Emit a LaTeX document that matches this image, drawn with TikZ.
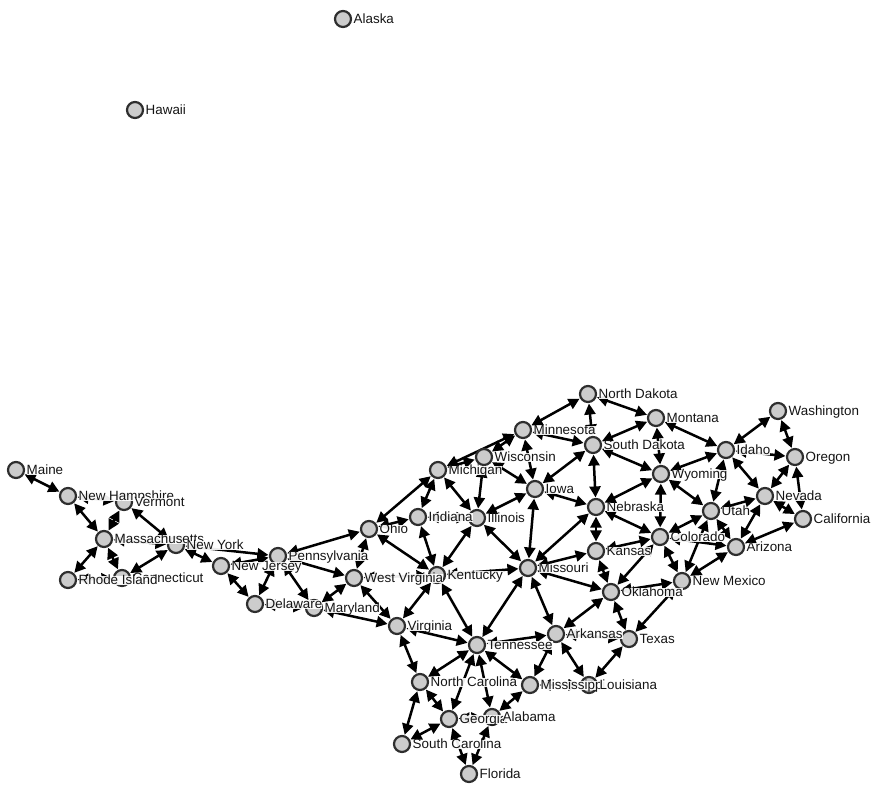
\documentclass[tikz,border=0pt]{standalone}
\usepackage{fontspec}
\setmainfont{Liberation Sans}
\usetikzlibrary{arrows.meta}
\pgfdeclarelayer{edgelayer}
\pgfsetlayers{edgelayer,main}
\definecolor{nodefill}{HTML}{CCCCCC}
\definecolor{nodeline}{HTML}{2E2E2E}
\definecolor{labeltext}{HTML}{151515}
\tikzset{
  stnode/.style={circle,draw=nodeline,fill=nodefill,line width=2.2pt,minimum size=16pt,inner sep=0pt,outer sep=1.6pt},
  link/.style={line width=2.5pt,black,{Triangle[length=11pt,width=11pt]}-{Triangle[length=11pt,width=11pt]}},
  stlabel/.style={anchor=base west,inner sep=0pt,text height=8.5pt,text depth=0.5pt,text=labeltext,fill=white,fill opacity=.92,text opacity=1,font=\fontsize{13.4}{15}\selectfont}
}
\begin{document}
\begin{tikzpicture}[x=1pt,y=-1pt]
\useasboundingbox (0,0) rectangle (875,793);
\foreach \n/\x/\y in {AK/343/19,HI/135/110,ME/16/470,NH/68/496,VT/124/502,MA/104/539,RI/68/580,CT/122/578,NY/176/545,NJ/221/566,DE/255/604,PA/278/556,OH/369/529,MI/438/470,WI/484/457,IN/418/517,IL/477/518,IA/535/489,KY/437/575,WV/354/578,MO/528/568,MD/314/608,VA/397/626,TN/477/645,AR/556/634,TX/629/639,NC/420/682,MS/530/685,LA/589/685,GA/449/719,AL/492/717,SC/402/744,FL/469/774,ND/588/394,MT/656/418,MN/523/430,SD/593/445,WY/661/474,NE/596/507,CO/660/537,KS/596/551,OK/611/592,NM/682/581,UT/711/511,WA/778/411,OR/795/457,ID/726/450,NV/765/496,CA/803/519,AZ/736/547}
  \node[stnode] (\n) at (\x,\y) {};
\begin{pgfonlayer}{edgelayer}
\foreach \a/\b in {ME/NH,NH/VT,NH/MA,VT/MA,VT/NY,MA/RI,MA/CT,MA/NY,RI/CT,CT/NY,NY/NJ,NY/PA,NJ/PA,NJ/DE,PA/DE,PA/MD,PA/OH,PA/WV,DE/MD,MD/WV,MD/VA,WV/OH,WV/KY,WV/VA,OH/MI,OH/IN,OH/KY,MI/IN,MI/IL,MI/WI,MI/MN,WI/IL,WI/IA,WI/MN,IN/IL,IN/KY,IL/IA,IL/KY,IL/MO,KY/MO,KY/VA,KY/TN,VA/TN,VA/NC,TN/NC,TN/GA,TN/AL,TN/MS,TN/AR,TN/MO,NC/SC,NC/GA,SC/GA,GA/AL,GA/FL,AL/FL,AL/MS,MS/AR,MS/LA,AR/LA,AR/MO,AR/OK,AR/TX,LA/TX,TX/OK,TX/NM,OK/MO,OK/KS,OK/CO,OK/NM,KS/MO,KS/NE,KS/CO,NE/MO,NE/IA,NE/SD,NE/WY,NE/CO,IA/MN,IA/SD,IA/MO,MN/SD,MN/ND,ND/SD,ND/MT,MT/SD,MT/WY,MT/ID,SD/WY,WY/ID,WY/UT,WY/CO,CO/UT,CO/NM,CO/AZ,UT/ID,UT/NV,UT/AZ,UT/NM,AZ/NM,AZ/NV,AZ/CA,NV/ID,NV/OR,NV/CA,ID/OR,ID/WA,WA/OR,OR/CA}
  \draw[link] (\a) -- (\b);
\end{pgfonlayer}
\foreach \n/\t in {AK/Alaska,HI/Hawaii,ME/Maine,NH/New Hampshire,VT/Vermont,MA/Massachusetts,CT/Connecticut,RI/Rhode Island,NY/New York,NJ/New Jersey,DE/Delaware,PA/Pennsylvania,OH/Ohio,MI/Michigan,WI/Wisconsin,IN/Indiana,IL/Illinois,IA/Iowa,KY/Kentucky,WV/West Virginia,MO/Missouri,MD/Maryland,VA/Virginia,TN/Tennessee,AR/Arkansas,TX/Texas,NC/North Carolina,MS/Mississippi,LA/Louisiana,GA/Georgia,AL/Alabama,SC/South Carolina,FL/Florida,ND/North Dakota,MT/Montana,MN/Minnesota,SD/South Dakota,WY/Wyoming,NE/Nebraska,CO/Colorado,KS/Kansas,OK/Oklahoma,NM/New Mexico,UT/Utah,WA/Washington,OR/Oregon,ID/Idaho,NV/Nevada,CA/California,AZ/Arizona}
  \node[stlabel] (lab\n) at ([xshift=10.5pt,yshift=-4.2pt]\n.center) {\t};
\end{tikzpicture}
\end{document}
